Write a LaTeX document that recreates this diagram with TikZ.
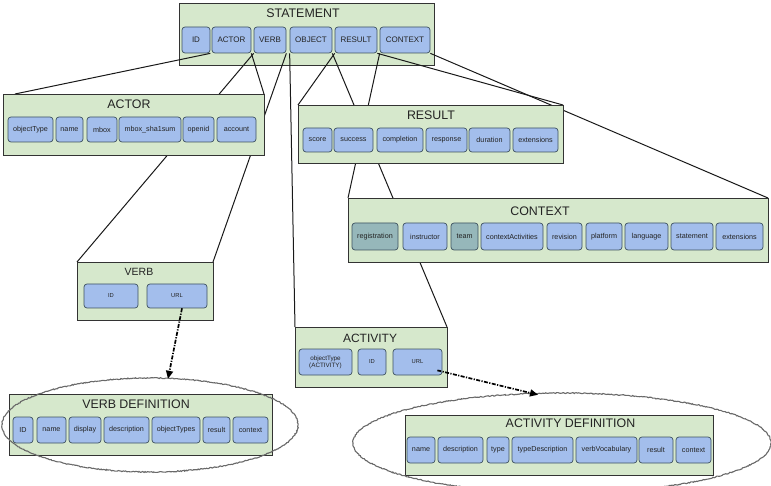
\documentclass[tikz,border=0pt]{standalone}
\usepackage{fontspec}
\setmainfont{Liberation Sans}
\usetikzlibrary{shapes.geometric,shadows,calc,decorations.pathmorphing,arrows.meta}
\definecolor{contgreen}{RGB}{214,232,204}
\definecolor{subblue}{RGB}{163,190,236}
\definecolor{subteal}{RGB}{150,183,186}
\definecolor{subedge}{RGB}{62,82,96}
\definecolor{txtgray}{RGB}{35,35,35}
\definecolor{ellgray}{RGB}{105,105,105}
\tikzset{
  cont/.style={draw=black!80, line width=0.8pt, fill=contgreen, inner sep=0pt,
    drop shadow={shadow xshift=1.2pt, shadow yshift=-1.2pt, fill=black!65, opacity=1}},
  ttl/.style={text=txtgray, inner sep=0pt, font=\fontsize{12.4}{14}\selectfont},
  sub/.style={draw=subedge, line width=0.7pt, fill=subblue, rounded corners=3pt,
    inner sep=0.5pt, text=txtgray, font=\fontsize{7.2}{8.5}\selectfont},
  subT/.style={fill=subteal},
  subS/.style={font=\fontsize{8}{9}\selectfont},
  subV/.style={font=\fontsize{5.8}{7}\selectfont},
  conn/.style={draw=black!90, line width=1pt},
  defell/.style={ellipse, draw=none, inner sep=0pt},
  fuzzy/.style={draw=ellgray, line width=1.1pt,
    decorate, decoration={random steps, segment length=1.2pt, amplitude=0.5pt}},
  refarrow/.style={draw=black, line width=1.7pt,
    dash pattern=on 4pt off 1.4pt on 1.2pt off 1.4pt,
    -{Triangle[length=8pt,width=7pt]}}
}
\newcommand\mycont[5]{\node[cont, minimum width={#4-#2}, minimum height={#5-#3}] (#1) at ({(#2+#4)/2},{(#3+#5)/2}) {};}
\newcommand\mysub[7][]{\node[sub,#1, minimum width={#5-#3}, minimum height={#6-#4}] (#2) at ({(#3+#5)/2},{(#4+#6)/2}) {#7};}
\begin{document}
\begin{tikzpicture}[x=1pt,y=-1pt]
\useasboundingbox (0,0) rectangle (771,486);

% STATEMENT
\mycont{stmt}{179}{3}{434}{65}
\node[ttl] (stmtT) at (303,13.5) {STATEMENT};
\mysub[subS]{sID}{182}{27}{210}{53}{ID}
\mysub[subS]{sACTOR}{212}{27}{251}{53}{ACTOR}
\mysub[subS]{sVERB}{254}{27}{286}{53}{VERB}
\mysub[subS]{sOBJECT}{290}{27}{332}{53}{OBJECT}
\mysub[subS]{sRESULT}{335}{27}{377}{53}{RESULT}
\mysub[subS]{sCONTEXT}{380}{27}{430}{53}{CONTEXT}

% connectors (behind the detail boxes)
\draw[conn] (sID.south east) -- ($(3,94)+(12,0)$) coordinate (actTL);
\draw[conn] (sACTOR.south east) -- (264,94) coordinate (actTR);
\draw[conn] (sVERB.south west) -- (77,262) coordinate (vbTL);
\draw[conn] (sVERB.south east) -- (213,262) coordinate (vbTR);
\draw[conn] (sOBJECT.south west) -- (295,327) coordinate (acTL);
\draw[conn] (sOBJECT.south east) -- (447,327) coordinate (acTR);
\draw[conn] (sRESULT.south west) -- (298,105) coordinate (rsTL);
\draw[conn] (sRESULT.south east) -- (563,105) coordinate (rsTR);
\draw[conn] (sCONTEXT.south west) -- (348,198) coordinate (cxTL);
\draw[conn] (sCONTEXT.south east) -- (768,198) coordinate (cxTR);

% ACTOR
\mycont{actor}{3}{94}{264}{155}
\node[ttl] (actorT) at (129,104) {ACTOR};
\mysub{aObjType}{8}{117}{53}{142}{objectType}
\mysub{aName}{56}{117}{83}{142}{name}
\mysub{aMbox}{87}{117}{117}{142}{mbox}
\mysub{aSha}{119}{117}{181}{142}{mbox\_sha1sum}
\mysub{aOpen}{183}{117}{214}{142}{openid}
\mysub{aAcc}{217}{117}{256}{142}{account}

% RESULT
\mycont{result}{298}{105}{563}{163}
\node[ttl] (resultT) at (431,115.5) {RESULT};
\mysub{rScore}{303}{128}{332}{152}{score}
\mysub{rSucc}{334}{128}{373}{152}{success}
\mysub{rComp}{377}{128}{423}{152}{completion}
\mysub{rResp}{426}{128}{467}{152}{response}
\mysub{rDur}{469}{128}{510}{152}{duration}
\mysub{rExt}{513}{128}{558}{152}{extensions}

% CONTEXT
\mycont{context}{348}{198}{768}{262}
\node[ttl] (contextT) at (540,211.5) {CONTEXT};
\mysub[subT]{cReg}{352}{223}{398}{250}{registration}
\mysub{cInst}{403}{223}{447}{250}{instructor}
\mysub[subT]{cTeam}{451}{223}{478}{250}{team}
\mysub{cCA}{481}{223}{543}{250}{contextActivities}
\mysub{cRev}{547}{223}{582}{250}{revision}
\mysub{cPlat}{586}{223}{622}{250}{platform}
\mysub{cLang}{625}{223}{668}{250}{language}
\mysub{cStmt}{671}{223}{713}{250}{statement}
\mysub{cExt}{716}{223}{763}{250}{extensions}

% VERB
\mycont{verb}{77}{262}{213}{320}
\node[ttl, font=\fontsize{10.5}{12}\selectfont] (verbT) at (139,272) {VERB};
\mysub[subV]{vID}{84}{284}{138}{308}{ID}
\mysub[subV]{vURL}{147}{284}{207}{308}{URL}

% ACTIVITY
\mycont{activity}{295}{327}{447}{387}
\node[ttl, font=\fontsize{12}{14}\selectfont] (activityT) at (370,338.5) {ACTIVITY};
\mysub[subV, align=center, font=\fontsize{6.3}{6.8}\selectfont]{acObj}{299}{349}{352}{375}{objectType\\(ACTIVITY)}
\mysub[subV]{acID}{358}{349}{386}{375}{ID}
\mysub[subV]{acURL}{393}{349}{442}{375}{URL}

% VERB DEFINITION
\mycont{verbdef}{9}{394}{272}{455}
\node[ttl] (verbdefT) at (136,403.8) {VERB DEFINITION};
\mysub{vdID}{13}{417}{33}{443}{ID}
\mysub{vdName}{37}{417}{66}{443}{name}
\mysub{vdDisp}{69}{417}{101}{443}{display}
\mysub{vdDesc}{104}{417}{149}{443}{description}
\mysub{vdObjT}{152}{417}{200}{443}{objectTypes}
\mysub{vdRes}{203}{417}{230}{443}{result}
\mysub{vdCtx}{233}{417}{268}{443}{context}

% ACTIVITY DEFINITION
\mycont{actdef}{405}{415}{713}{475}
\node[ttl] (actdefT) at (570.5,423.5) {ACTIVITY DEFINITION};
\mysub{adName}{407}{437}{435}{463}{name}
\mysub{adDesc}{438}{437}{483}{463}{description}
\mysub{adType}{487}{437}{509}{463}{type}
\mysub{adTD}{512}{437}{573}{463}{typeDescription}
\mysub{adVV}{576}{437}{637}{463}{verbVocabulary}
\mysub{adRes}{639}{437}{673}{463}{result}
\mysub{adCtx}{676}{437}{711}{463}{context}

% ellipses
\node[defell, minimum width=296pt, minimum height=94pt] (vdefEll) at (150,425) {};
\node[defell, minimum width=418pt, minimum height=100pt] (adefEll) at (562,443) {};
\draw[fuzzy] (vdefEll.center) ellipse [x radius=148, y radius=47];
\draw[fuzzy] (adefEll.center) ellipse [x radius=209, y radius=50];

% reference arrows
\draw[refarrow] ($(vURL.south)+(5,0)$) -- ($(vdefEll.north)+(18,1)$);
\draw[refarrow] ($(acURL.south east)+(-5,-5)$) -- ($(adefEll.north)+(-24,2)$);
\end{tikzpicture}
\end{document}
